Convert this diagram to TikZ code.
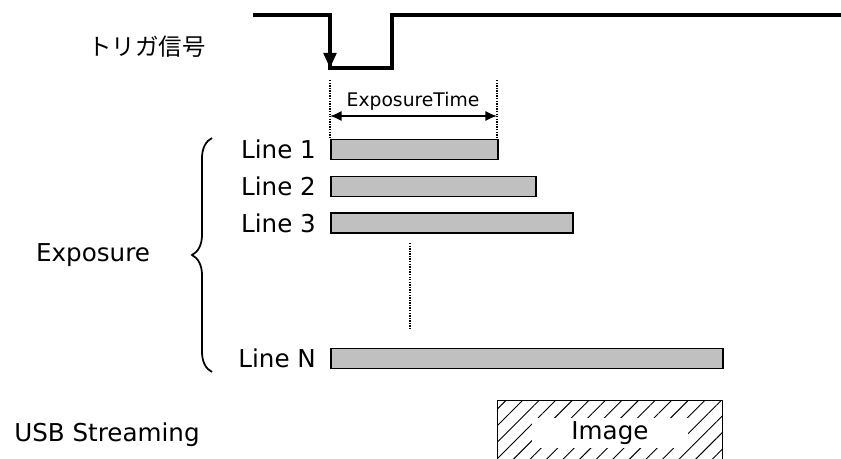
\documentclass[tikz,border=0pt]{standalone}
\usepackage{fontspec}
\setmainfont{DejaVu Sans}
\newfontfamily\jpfont{Noto Sans CJK JP}
\usepackage{xcolor}
\usetikzlibrary{arrows.meta,decorations.pathreplacing,patterns.meta}
\definecolor{barfill}{RGB}{192,192,192}

\begin{document}
\begin{tikzpicture}[x=0.03cm,y=-0.03cm,
    lbl/.style={font=\fontsize{21}{24}\selectfont},
    bar/.style={draw,line width=1.6pt,fill=barfill,minimum height=0.6cm,anchor=west,inner sep=0pt},
    sig/.style={line width=2.6pt},
    guide/.style={line width=1.2pt,densely dotted}]
    \useasboundingbox (0,0) rectangle (841,459);

    % trigger signal
    \coordinate (s0) at (253,15);
    \coordinate (fall) at (330,15);
    \coordinate (low) at (330,68);
    \coordinate (rise) at (392,68);
    \coordinate (high) at (392,15);
    \coordinate (s1) at (845,15);
    \draw[sig] (s0) -- (fall) -- (low) -- (rise) -- (high) -- (s1);
    \draw[sig,-{Triangle[length=13pt,width=11pt]}] (fall) -- (low);
    \node[font=\jpfont\fontsize{20}{24}\selectfont] (trig) at (147,47) {トリガ信号};

    % exposure time
    \coordinate (g0t) at (330,80);
    \coordinate (g0b) at (330,137);
    \coordinate (g1t) at (497,80);
    \coordinate (g1b) at (497,137);
    \draw[guide] (g0t) -- (g0b);
    \draw[guide] (g1t) -- (g1b);
    \node[font=\fontsize{16}{18}\selectfont] (exptime) at (413,101) {ExposureTime};
    \coordinate (a0) at (330,116);
    \coordinate (a1) at (497,116);
    \draw[line width=1.8pt,{Latex[length=10pt,width=9pt]}-{Latex[length=10pt,width=9pt]}] (a0) -- (a1);

    % lines
    \node[bar,minimum width=5.01cm] (bar1) at (330,149.5) {};
    \node[bar,minimum width=6.15cm] (bar2) at (330,186.5) {};
    \node[bar,minimum width=7.26cm] (bar3) at (330,223) {};
    \node[bar,minimum width=11.76cm] (barN) at (330,358.5) {};
    \node[lbl,anchor=east] (lab1) at (320,149.5) {Line 1};
    \node[lbl,anchor=east] (lab2) at (320,186.5) {Line 2};
    \node[lbl,anchor=east] (lab3) at (320,223) {Line 3};
    \node[lbl,anchor=east] (labN) at (320,358.5) {Line N};
    \coordinate (d0) at (410,243);
    \coordinate (d1) at (410,330);
    \draw[guide] (d0) -- (d1);

    \draw[decorate,decoration={brace,amplitude=0.6cm},line width=1.5pt] (212,372) -- (212,138);
    \node[lbl] (expo) at (93,255) {Exposure};

    % streaming
    \node[lbl] (usb) at (107,435) {USB Streaming};
    \node[draw,line width=1.6pt,anchor=north west,minimum width=6.75cm,minimum height=2.2cm,
          pattern={Lines[angle=45,distance=10pt,line width=0.8pt]}] (img) at (497,400) {};
    \node[lbl,fill=white,minimum width=4.7cm,minimum height=0.8cm] (imgtxt) at (610,433) {Image};
\end{tikzpicture}
\end{document}
